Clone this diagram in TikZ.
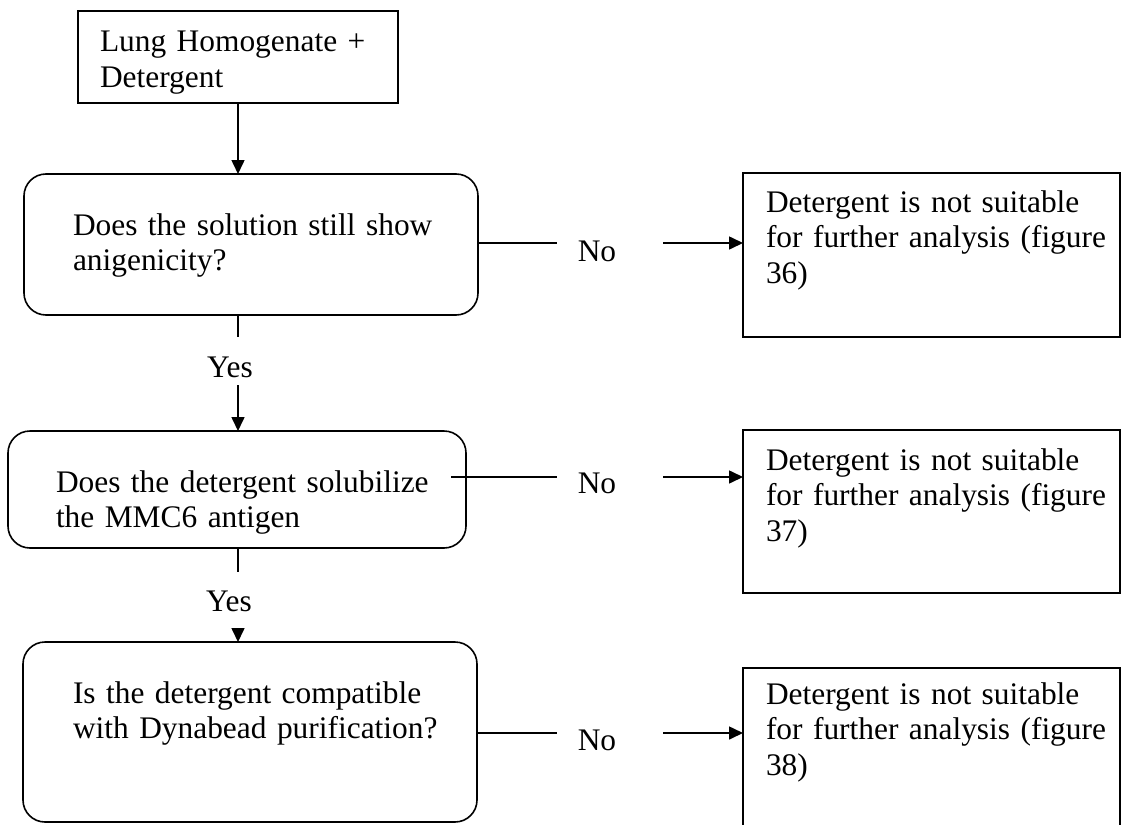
\documentclass[tikz,border=0pt]{standalone}
\usepackage{fontspec}
\setmainfont{Liberation Serif}
\usetikzlibrary{arrows.meta}
\begin{document}
\begin{tikzpicture}[x=1pt,y=-1pt,
  every node/.style={inner sep=0pt, outer sep=0pt},
  box/.style={draw, line width=1.6pt, rectangle},
  qbox/.style={box, rounded corners=22pt},
  txt/.style={anchor=base west, align=left, text width=440pt,
    font=\fontsize{31.4}{35.5}\selectfont},
  lbl/.style={anchor=base, font=\fontsize{31.4}{35.5}\selectfont},
  link/.style={line width=1.6pt},
  arr/.style={link, -{Triangle[length=14pt,width=13pt]}}
]
\useasboundingbox[fill=white] (0,0) rectangle (1123,824);

% start box
\node[box, minimum width=320pt, minimum height=92pt] (A) at (238,57) {};
\node[txt] (At) at (100,52) {Lung Homogenate +\\Detergent};

% question boxes
\node[qbox, minimum width=454pt, minimum height=141pt] (B) at (251,244.5) {};
\node[txt] (Bt) at (73,235) {Does the solution still show\\anigenicity?};

\node[qbox, minimum width=458pt, minimum height=117pt] (C) at (237,489.5) {};
\node[txt] (Ct) at (56,492) {Does the detergent solubilize\\the MMC6 antigen};

\node[qbox, minimum width=454pt, minimum height=180pt] (D) at (250,732) {};
\node[txt] (Dt) at (73,703) {Is the detergent compatible\\with Dynabead purification?};

% outcome boxes
\node[box, minimum width=377pt, minimum height=164pt] (R1) at (931.5,255) {};
\node[txt] (R1t) at (766,212) {Detergent is not suitable\\for further analysis (figure\\36)};

\node[box, minimum width=377pt, minimum height=163pt] (R2) at (931.5,511.5) {};
\node[txt] (R2t) at (766,470) {Detergent is not suitable\\for further analysis (figure\\37)};

\node[box, minimum width=377pt, minimum height=172pt] (R3) at (931.5,754) {};
\node[txt] (R3t) at (766,704) {Detergent is not suitable\\for further analysis (figure\\38)};

% branch labels
\node[lbl] (yes1) at (230,377) {Yes};
\node[lbl] (yes2) at (229,611) {Yes};
\node[lbl] (no1) at (597,261) {No};
\node[lbl] (no2) at (597,493) {No};
\node[lbl] (no3) at (597,750) {No};

% connector end points
\coordinate (y1a) at (238,337);
\coordinate (y1b) at (238,385);
\coordinate (y2a) at (238,572);
\coordinate (y2b) at (238,628);
\coordinate (n1a) at (557,243);
\coordinate (n1b) at (663,243);
\coordinate (c2s) at (451,477);
\coordinate (n2a) at (557,477);
\coordinate (n2b) at (663,477);
\coordinate (n3a) at (557,733);
\coordinate (n3b) at (663,733);

% vertical flow
\draw[arr] (A.south) -- (A.south |- B.north);
\draw[link] (y1a |- B.south) -- (y1a);
\draw[arr] (y1b) -- (y1b |- C.north);
\draw[link] (y2a |- C.south) -- (y2a);
\draw[arr] (y2b) -- (y2b |- D.north);

% "No" branches
\draw[link] (n1a -| B.east) -- (n1a);
\draw[arr] (n1b) -- (n1b -| R1.west);
\draw[link] (c2s) -- (n2a);
\draw[arr] (n2b) -- (n2b -| R2.west);
\draw[link] (n3a -| D.east) -- (n3a);
\draw[arr] (n3b) -- (n3b -| R3.west);
\end{tikzpicture}
\end{document}
